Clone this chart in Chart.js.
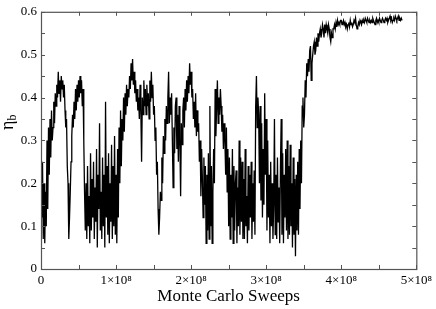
<!DOCTYPE html>
<html>
<head>
<meta charset="utf-8">
<script src="https://cdn.jsdelivr.net/npm/chart.js@4/dist/chart.umd.min.js"></script>
<style>
  html, body { margin: 0; padding: 0; background: #fff; }
  #wrap { width: 436px; height: 309px; }
</style>
</head>
<body>
<div id="wrap"><canvas id="etaChart" width="436" height="309"></canvas></div>
<script>
// Sweep count grid: one sample every 1e6 sweeps
const sweepStep = 1e6;

// eta_b, one row per 1e7 sweeps
const etaValues = [
    0.23, 0.12, 0.25, 0.07, 0.20, 0.06, 0.18, 0.10, 0.30, 0.14,
    0.33, 0.22, 0.35, 0.26, 0.37, 0.30, 0.33, 0.39, 0.34, 0.41,
    0.38, 0.43, 0.40, 0.46, 0.41, 0.44, 0.39, 0.45, 0.42, 0.44,
    0.40, 0.43, 0.37, 0.33, 0.35, 0.24, 0.20, 0.07, 0.12, 0.18,
    0.25, 0.31, 0.36, 0.33, 0.39, 0.35, 0.42, 0.37, 0.43, 0.39,
    0.44, 0.40, 0.45, 0.41, 0.44, 0.38, 0.42, 0.30, 0.18, 0.09,
    0.20, 0.07, 0.24, 0.10, 0.17, 0.06, 0.27, 0.09, 0.21, 0.12,
    0.25, 0.07, 0.19, 0.11, 0.28, 0.05, 0.22, 0.14, 0.34, 0.09,
    0.18, 0.07, 0.26, 0.10, 0.22, 0.05, 0.39, 0.12, 0.24, 0.08,
    0.27, 0.06, 0.20, 0.11, 0.29, 0.07, 0.24, 0.10, 0.31, 0.08,
    0.22, 0.06, 0.28, 0.12, 0.33, 0.20, 0.37, 0.24, 0.35, 0.30,
    0.40, 0.32, 0.41, 0.36, 0.43, 0.38, 0.42, 0.40, 0.45, 0.42,
    0.48, 0.44, 0.49, 0.43, 0.46, 0.41, 0.44, 0.39, 0.42, 0.37,
    0.40, 0.35, 0.43, 0.37, 0.25, 0.40, 0.36, 0.44, 0.38, 0.42,
    0.36, 0.43, 0.38, 0.41, 0.35, 0.44, 0.39, 0.46, 0.40, 0.43,
    0.36, 0.38, 0.30, 0.33, 0.22, 0.25, 0.14, 0.08, 0.12, 0.18,
    0.16, 0.26, 0.20, 0.31, 0.27, 0.35, 0.30, 0.38, 0.34, 0.40,
    0.46, 0.34, 0.40, 0.36, 0.41, 0.30, 0.19, 0.33, 0.27, 0.38,
    0.40, 0.28, 0.36, 0.25, 0.38, 0.30, 0.17, 0.34, 0.29, 0.37,
    0.40, 0.33, 0.42, 0.37, 0.44, 0.39, 0.45, 0.41, 0.48, 0.43,
    0.46, 0.40, 0.42, 0.35, 0.39, 0.33, 0.41, 0.31, 0.37, 0.32,
    0.34, 0.25, 0.30, 0.17, 0.28, 0.21, 0.12, 0.26, 0.15, 0.24,
    0.06, 0.22, 0.09, 0.27, 0.07, 0.38, 0.10, 0.24, 0.06, 0.18,
    0.28, 0.20, 0.42, 0.31, 0.38, 0.44, 0.34, 0.40, 0.36, 0.42,
    0.38, 0.32, 0.36, 0.28, 0.34, 0.30, 0.22, 0.33, 0.18, 0.28,
    0.10, 0.26, 0.07, 0.22, 0.12, 0.28, 0.06, 0.24, 0.09, 0.20,
    0.23, 0.06, 0.19, 0.10, 0.30, 0.08, 0.26, 0.11, 0.25, 0.07,
    0.21, 0.07, 0.28, 0.10, 0.17, 0.06, 0.24, 0.09, 0.22, 0.12,
    0.25, 0.07, 0.20, 0.11, 0.23, 0.08, 0.38, 0.45, 0.33, 0.40,
    0.36, 0.20, 0.38, 0.16, 0.34, 0.12, 0.28, 0.15, 0.41, 0.22,
    0.35, 0.09, 0.30, 0.12, 0.22, 0.06, 0.25, 0.10, 0.20, 0.07,
    0.15, 0.35, 0.08, 0.22, 0.07, 0.26, 0.11, 0.19, 0.06, 0.24,
    0.35, 0.08, 0.27, 0.06, 0.22, 0.12, 0.28, 0.09, 0.30, 0.07,
    0.24, 0.08, 0.29, 0.10, 0.20, 0.05, 0.26, 0.08, 0.21, 0.03,
    0.22, 0.09, 0.25, 0.08, 0.28, 0.14, 0.30, 0.20, 0.38, 0.40,
    0.33, 0.36, 0.44, 0.40, 0.48, 0.45, 0.49, 0.46, 0.51, 0.52,
    0.44, 0.48, 0.50, 0.52, 0.53, 0.50, 0.51, 0.54, 0.52, 0.55,
    0.53, 0.55, 0.56, 0.54, 0.55, 0.57, 0.56, 0.54, 0.57, 0.55,
    0.57, 0.56, 0.55, 0.57, 0.56, 0.54, 0.53, 0.55, 0.54, 0.56,
    0.56, 0.57, 0.56, 0.575, 0.565, 0.58, 0.57, 0.575, 0.57, 0.58,
    0.58, 0.57, 0.575, 0.58, 0.57, 0.575, 0.565, 0.57, 0.56, 0.57,
    0.575, 0.565, 0.58, 0.57, 0.575, 0.565, 0.57, 0.58, 0.575, 0.585,
    0.57, 0.56, 0.565, 0.575, 0.57, 0.58, 0.575, 0.57, 0.58, 0.575,
    0.58, 0.575, 0.585, 0.58, 0.575, 0.585, 0.58, 0.575, 0.58, 0.575,
    0.58, 0.575, 0.585, 0.58, 0.575, 0.57, 0.58, 0.585, 0.575, 0.58,
    0.575, 0.585, 0.58, 0.575, 0.58, 0.585, 0.58, 0.575, 0.58, 0.585,
    0.58, 0.585, 0.575, 0.58, 0.585, 0.59, 0.58, 0.585, 0.575, 0.58,
    0.585, 0.58, 0.59, 0.585, 0.58, 0.585, 0.59, 0.58, 0.585, 0.58,
    0.585, 0.58
];

const xTickLabels = ['0', '1×10⁸', '2×10⁸', '3×10⁸', '4×10⁸', '5×10⁸'];
const yTickLabels = ['0', '0.1', '0.2', '0.3', '0.4', '0.5', '0.6'];

const points = etaValues.map((v, i) => ({ x: i * sweepStep, y: v }));

const serif = '"Liberation Serif", "DejaVu Serif", serif';

// inward ticks on all four sides, frame, and the axis titles
const framePlugin = {
    id: 'frame',
    afterDraw(chart) {
        const { ctx, chartArea: a, scales } = chart;
        ctx.save();
        ctx.strokeStyle = '#555';
        ctx.lineWidth = 1;
        ctx.beginPath();
        for (let v = 0; v <= 0.6001; v += 0.05) {
            const y = Math.round(scales.y.getPixelForValue(v)) + 0.5;
            ctx.moveTo(a.left, y); ctx.lineTo(a.left + 4, y);
            ctx.moveTo(a.right, y); ctx.lineTo(a.right - 4, y);
        }
        for (let v = 0; v <= 5e8; v += 0.5e8) {
            const x = Math.round(scales.x.getPixelForValue(v)) + 0.5;
            ctx.moveTo(x, a.bottom); ctx.lineTo(x, a.bottom - 4);
            ctx.moveTo(x, a.top); ctx.lineTo(x, a.top + 4);
        }
        ctx.stroke();
        ctx.lineWidth = 1.2;
        ctx.strokeRect(a.left + 0.5, a.top + 0.5, a.right - a.left, a.bottom - a.top);

        // y title: eta with subscript b
        ctx.fillStyle = '#000';
        ctx.translate(13, 124);
        ctx.rotate(-Math.PI / 2);
        ctx.textBaseline = 'alphabetic';
        ctx.font = '18px ' + serif;
        ctx.fillText('η', -6, 0);
        const w = ctx.measureText('η').width;
        ctx.font = '12px ' + serif;
        ctx.fillText('b', -6 + w, 3);
        ctx.restore();

        // x title
        ctx.save();
        ctx.fillStyle = '#000';
        ctx.font = '17px ' + serif;
        ctx.textAlign = 'center';
        ctx.textBaseline = 'middle';
        ctx.fillText('Monte Carlo Sweeps', (a.left + a.right) / 2, 297);
        ctx.restore();
    }
};

const ctx = document.getElementById('etaChart').getContext('2d');
new Chart(ctx, {
    type: 'line',
    data: {
        datasets: [{
            data: points,
            borderColor: '#000',
            borderWidth: 1.3,
            pointRadius: 0,
            tension: 0,
            fill: false
        }]
    },
    options: {
        responsive: false,
        animation: false,
        layout: { padding: { left: 0, top: 5, right: 18, bottom: 0 } },
        plugins: {
            legend: { display: false },
            tooltip: { enabled: false }
        },
        scales: {
            x: {
                type: 'linear',
                min: 0,
                max: 5e8,
                grid: { display: false, drawTicks: false },
                border: { display: false },
                afterFit(scale) { scale.height = 40; },
                ticks: {
                    stepSize: 1e8,
                    autoSkip: false,
                    maxRotation: 0,
                    padding: 4,
                    color: '#000',
                    font: { family: serif, size: 13 },
                    callback: (v) => xTickLabels[Math.round(v / 1e8)]
                }
            },
            y: {
                min: 0,
                max: 0.6,
                grid: { display: false, drawTicks: false },
                border: { display: false },
                afterFit(scale) { scale.width = 41; },
                ticks: {
                    stepSize: 0.1,
                    padding: 4,
                    color: '#000',
                    font: { family: serif, size: 13 },
                    callback: (v) => yTickLabels[Math.round(v * 10)]
                }
            }
        }
    },
    plugins: [framePlugin]
});
</script>
</body>
</html>
